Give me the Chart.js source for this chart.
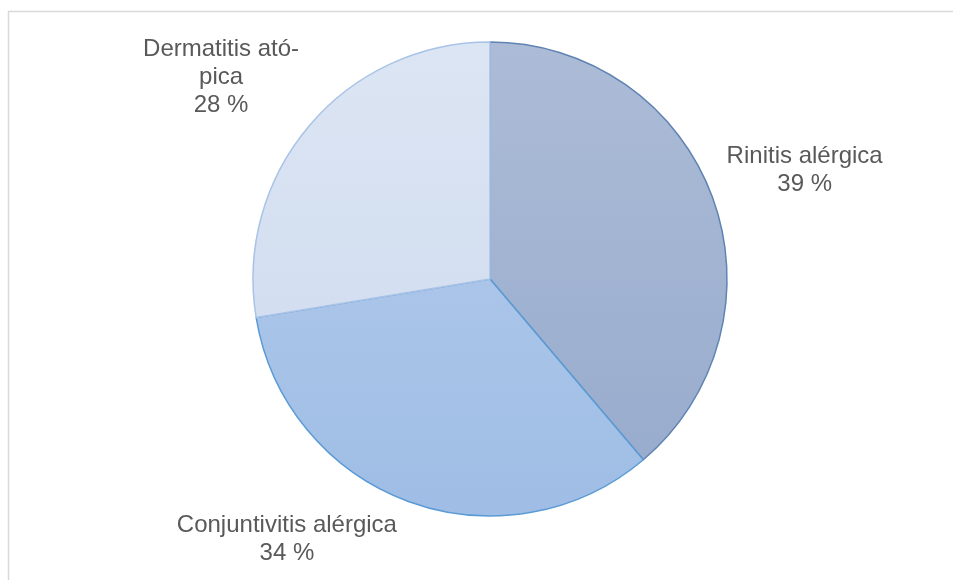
<!DOCTYPE html>
<html>
<head>
<meta charset="utf-8">
<script src="https://cdn.jsdelivr.net/npm/chart.js@4/dist/chart.umd.min.js"></script>
<style>
  html, body { margin: 0; padding: 0; background: #fff; }
  #wrap { position: relative; width: 953px; height: 580px; }
</style>
</head>
<body>
<div id="wrap"><canvas id="chart"></canvas></div>
<script>
// Datos
const categorias = ['Rinitis alérgica', 'Conjuntivitis alérgica', 'Dermatitis atópica'];
const lineasEtiqueta = [['Rinitis alérgica'], ['Conjuntivitis alérgica'], ['Dermatitis ató-', 'pica']];
const valores = [38.8, 33.6, 27.6];

// Estilo
const RADIO = 237;
const coloresArriba = ['#acbcd7', '#b5cdec', '#dce5f3'];
const coloresAbajo = ['#96aacc', '#9fbde5', '#ccd9ee'];
const bordes = ['#5f83b2', '#5b9bd5', '#a9c3e7'];
// posición de etiquetas: [ángulo desde arriba (grados, horario), factor de radio]
const posEtiquetas = [[70.9, 1.405], [218.0, 1.392], [306.9, 1.419]];

const fillGrad = (ctx) => {
  const chart = ctx.chart;
  const area = chart.chartArea;
  if (!area) return coloresArriba[ctx.dataIndex];
  const cy = (area.top + area.bottom) / 2;
  const g = chart.ctx.createLinearGradient(0, cy - RADIO, 0, cy + RADIO);
  g.addColorStop(0, coloresArriba[ctx.dataIndex]);
  g.addColorStop(1, coloresAbajo[ctx.dataIndex]);
  return g;
};

const marco = {
  id: 'marco',
  beforeDraw(chart) {
    const c = chart.ctx;
    c.save();
    c.strokeStyle = '#d9d9d9';
    c.lineWidth = 1.5;
    c.strokeRect(8.5, 11.5, 1000, 700);
    c.restore();
  }
};

const etiquetas = {
  id: 'etiquetas',
  afterDatasetsDraw(chart) {
    const meta = chart.getDatasetMeta(0);
    const total = valores.reduce((a, b) => a + b, 0);
    const c = chart.ctx;
    c.save();
    c.fillStyle = '#595959';
    c.font = '24px "Liberation Sans", Arial, sans-serif';
    c.textAlign = 'center';
    c.textBaseline = 'middle';
    meta.data.forEach((arc, i) => {
      const [ang, f] = posEtiquetas[i];
      const a = ang * Math.PI / 180;
      const cx = arc.x + Math.sin(a) * arc.outerRadius * f;
      const cy = arc.y - Math.cos(a) * arc.outerRadius * f;
      const lines = [...lineasEtiqueta[i], Math.round(valores[i] / total * 100) + ' %'];
      const lh = 28;
      const y0 = cy - (lines.length - 1) * lh / 2;
      lines.forEach((t, k) => c.fillText(t, cx, y0 + k * lh));
    });
    c.restore();
  }
};

new Chart(document.getElementById('chart'), {
  type: 'pie',
  data: {
    labels: categorias,
    datasets: [{
      data: valores,
      backgroundColor: fillGrad,
      borderColor: bordes,
      borderWidth: 1.5
    }]
  },
  options: {
    responsive: true,
    maintainAspectRatio: false,
    animation: false,
    radius: RADIO,
    layout: { padding: { left: 100, right: 73, top: 20, bottom: 42 } },
    plugins: { legend: { display: false }, tooltip: { enabled: false } }
  },
  plugins: [marco, etiquetas]
});
</script>
</body>
</html>
